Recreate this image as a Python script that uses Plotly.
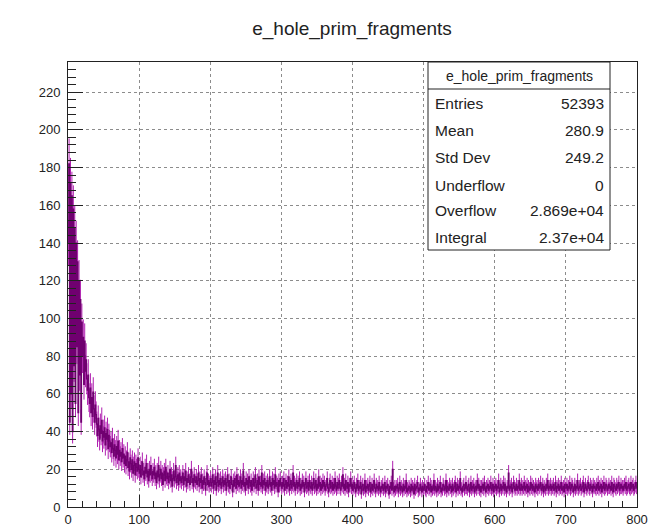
import numpy as np
import plotly.graph_objects as go

# ---------------- data (bin contents, 800 bins of width 1 from 0 to 800) -------------
title_text = "e_hole_prim_fragments"
x_min, x_max = 0, 800

counts_000_039 = [140, 182, 45, 172, 60, 165, 40, 158, 75, 148, 55, 140, 85, 130, 50, 120, 70, 110, 45, 98,
                  80, 90, 65, 88, 72, 78, 68, 62, 70, 58, 55, 63, 50, 58, 48, 61, 52, 45, 54, 49]
counts_040_099 = [44, 38, 47, 41, 36, 43, 39, 46, 35, 40, 37, 42, 33, 39, 36, 41, 31, 38, 35, 32,
                  34, 29, 36, 31, 27, 33, 30, 26, 32, 28, 35, 25, 30, 27, 29, 24, 31, 26, 28, 23,
                  27, 22, 25, 29, 21, 24, 19, 26, 23, 20, 25, 18, 22, 24, 17, 23, 21, 19, 26, 20]
counts_100_199 = [18, 22, 16, 20, 24, 17, 19, 15, 21, 18, 23, 16, 19, 14, 20, 17, 22, 18, 15, 19,
                  17, 21, 15, 18, 13, 19, 16, 22, 14, 17, 20, 15, 18, 12, 17, 19, 14, 21, 16, 15,
                  18, 13, 16, 20, 14, 17, 11, 15, 19, 14, 16, 22, 13, 15, 17, 12, 18, 14, 16, 13,
                  15, 18, 12, 16, 14, 19, 11, 15, 13, 17, 14, 12, 16, 20, 13, 15, 11, 17, 14, 13,
                  16, 12, 14, 18, 11, 15, 13, 17, 10, 14, 12, 16, 13, 9, 15, 18, 12, 14, 11, 13]
counts_200_299 = [15, 11, 13, 17, 10, 14, 12, 16, 9, 13, 18, 11, 14, 12, 15, 10, 13, 16, 11, 14,
                  12, 15, 9, 13, 17, 11, 14, 10, 13, 16, 12, 8, 14, 11, 15, 13, 10, 17, 12, 14,
                  11, 13, 16, 10, 14, 12, 19, 11, 13, 9, 15, 12, 14, 10, 16, 13, 11, 14, 9, 12,
                  15, 11, 13, 17, 10, 12, 14, 9, 16, 12, 13, 11, 18, 10, 14, 12, 15, 9, 13, 11,
                  14, 10, 12, 16, 11, 13, 9, 15, 12, 14, 10, 17, 11, 13, 12, 8, 14, 11, 15, 12]
counts_300_399 = [10, 13, 11, 15, 9, 12, 14, 10, 13, 11, 16, 9, 12, 14, 10, 12, 18, 11, 13, 9,
                  12, 14, 10, 13, 11, 15, 9, 12, 10, 14, 11, 13, 8, 12, 15, 10, 11, 13, 9, 14,
                  11, 10, 13, 9, 12, 15, 10, 11, 14, 9, 12, 10, 16, 11, 13, 9, 12, 10, 14, 11,
                  13, 9, 11, 12, 15, 10, 8, 12, 14, 10, 11, 13, 9, 12, 10, 15, 11, 9, 13, 10,
                  12, 14, 10, 9, 13, 11, 17, 10, 12, 9, 14, 11, 10, 13, 8, 12, 11, 15, 10, 12]
counts_400_499 = [9, 11, 13, 10, 8, 12, 10, 14, 9, 11, 10, 13, 7, 11, 12, 9, 10, 14, 8, 11,
                  10, 12, 9, 11, 13, 8, 10, 12, 9, 11, 14, 10, 8, 12, 10, 11, 9, 13, 10, 8,
                  11, 10, 12, 9, 10, 13, 8, 11, 10, 12, 9, 7, 11, 10, 13, 9, 20, 10, 8, 11,
                  9, 11, 10, 12, 8, 10, 13, 9, 11, 10, 8, 12, 9, 11, 10, 14, 8, 10, 9, 11,
                  10, 8, 12, 9, 11, 10, 7, 12, 9, 10, 11, 13, 8, 10, 9, 12, 10, 8, 11, 9]
counts_500_599 = [10, 12, 9, 8, 11, 10, 13, 9, 10, 12, 8, 11, 9, 10, 14, 9, 11, 10, 8, 12,
                  9, 11, 10, 13, 8, 10, 9, 12, 11, 9, 10, 14, 8, 11, 10, 9, 12, 10, 11, 8,
                  12, 9, 10, 11, 13, 8, 10, 12, 9, 11, 10, 15, 9, 10, 8, 11, 12, 9, 10, 13,
                  10, 9, 11, 12, 8, 10, 13, 9, 11, 10, 12, 8, 10, 11, 9, 14, 10, 12, 9, 11,
                  8, 11, 10, 12, 9, 13, 10, 8, 11, 10, 12, 9, 11, 10, 13, 9, 10, 12, 8, 11]
counts_600_699 = [10, 12, 9, 11, 10, 14, 8, 10, 12, 9, 11, 10, 13, 9, 12, 10, 8, 11, 10, 18,
                  9, 11, 10, 12, 8, 10, 13, 11, 9, 10, 12, 9, 11, 10, 14, 9, 10, 12, 9, 11,
                  10, 13, 9, 11, 10, 12, 8, 11, 10, 9, 13, 10, 12, 9, 11, 10, 8, 12, 10, 11,
                  9, 12, 10, 11, 13, 9, 10, 12, 8, 11, 10, 9, 12, 10, 14, 9, 11, 10, 12, 9,
                  11, 10, 12, 9, 10, 13, 8, 11, 10, 12, 9, 11, 10, 13, 9, 10, 11, 8, 12, 10]
counts_700_799 = [10, 12, 9, 11, 10, 13, 9, 10, 12, 11, 8, 10, 12, 9, 11, 10, 14, 9, 10, 11,
                  12, 9, 10, 11, 13, 8, 10, 12, 10, 9, 11, 13, 10, 9, 12, 10, 11, 8, 12, 10,
                  11, 10, 9, 12, 10, 13, 9, 11, 10, 12, 8, 11, 10, 13, 9, 10, 12, 11, 9, 10,
                  12, 10, 11, 9, 13, 10, 8, 12, 11, 10, 9, 12, 10, 11, 13, 9, 10, 12, 10, 11,
                  9, 11, 12, 10, 13, 9, 10, 11, 12, 10, 9, 13, 10, 11, 12, 9, 10, 11, 13, 10]

x_tick_vals = [0, 100, 200, 300, 400, 500, 600, 700, 800]
y_tick_vals = [0, 20, 40, 60, 80, 100, 120, 140, 160, 180, 200, 220]

stats_title = "e_hole_prim_fragments"
stats_labels = ["Entries", "Mean", "Std Dev", "Underflow", "Overflow", "Integral"]
stats_values = ["52393", "280.9", "249.2", "0", "2.869e+04", "2.37e+04"]

# ---------------- build histogram ----------------
counts = np.array(counts_000_039 + counts_040_099 + counts_100_199 + counts_200_299 +
                  counts_300_399 + counts_400_499 + counts_500_599 + counts_600_699 +
                  counts_700_799, dtype=float)
n_bins = len(counts)
edges = np.linspace(x_min, x_max, n_bins + 1)
centers = 0.5 * (edges[:-1] + edges[1:])
errors = np.sqrt(counts)

FONT = "Liberation Sans, Arial, Helvetica, sans-serif"

fig = go.Figure()
fig.add_trace(go.Scatter(
    x=centers, y=counts, mode="lines",
    line=dict(shape="hvh", color="rgb(112,0,112)", width=1.2),
    error_y=dict(type="data", array=errors, visible=True,
                 color="rgb(175,30,175)", thickness=1, width=0),
    hoverinfo="skip", showlegend=False,
))

L, R, T, B = 68, 637, 62, 507
W, H = 663, 529

fig.update_layout(
    width=W, height=H,
    margin=dict(l=L, r=W - R, t=T, b=H - B, autoexpand=False),
    paper_bgcolor="white", plot_bgcolor="white",
    font=dict(family=FONT, size=13, color="#222"),
    title=dict(text=title_text, x=352 / W, xanchor="center",
               y=1 - 28 / H, yanchor="middle",
               font=dict(family=FONT, size=19, color="#222")),
    showlegend=False,
)

fig.update_xaxes(
    range=[x_min, x_max], tickmode="array", tickvals=x_tick_vals, automargin=False,
    ticks="inside", ticklen=12, tickcolor="#222", tickwidth=1,
    minor=dict(ticks="inside", ticklen=6, dtick=20, tickcolor="#222", showgrid=False),
    showline=True, linecolor="#222", linewidth=1, mirror=True,
    showgrid=True, gridcolor="#8c8c8c", griddash="dot", gridwidth=1,
    zeroline=False, tickfont=dict(size=13, color="#222"),
)
fig.update_yaxes(
    range=[0, 236], tickmode="array", tickvals=y_tick_vals, automargin=False,
    ticks="inside", ticklen=15, tickcolor="#222", tickwidth=1,
    minor=dict(ticks="inside", ticklen=8, dtick=4, tickcolor="#222", showgrid=False),
    showline=True, linecolor="#222", linewidth=1, mirror=True,
    showgrid=True, gridcolor="#8c8c8c", griddash="dot", gridwidth=1,
    zeroline=False, tickfont=dict(size=13, color="#222"), ticklabelstandoff=4,
)

# ---------------- stats box ----------------
def px_x(p):
    return (p - L) / (R - L)

def px_y(p):
    return (B - p) / (B - T)

bx0, bx1, by0, by1 = px_x(428), px_x(610), px_y(250), px_y(62)
fig.add_shape(type="rect", xref="paper", yref="paper", x0=bx0, x1=bx1, y0=by0, y1=by1,
              line=dict(color="#222", width=1), fillcolor="white", layer="above")
fig.add_shape(type="line", xref="paper", yref="paper", x0=bx0, x1=bx1,
              y0=px_y(89), y1=px_y(89), line=dict(color="#222", width=1), layer="above")
fig.add_annotation(xref="paper", yref="paper", x=(bx0 + bx1) / 2, y=px_y(76),
                   text=stats_title, showarrow=False, xanchor="center", yanchor="middle",
                   font=dict(family=FONT, size=14, color="#222"))
row_y = [103, 130, 158, 185, 211, 238]
for lab, val, ry in zip(stats_labels, stats_values, row_y):
    fig.add_annotation(xref="paper", yref="paper", x=px_x(433), y=px_y(ry), text=lab,
                       showarrow=False, xanchor="left", yanchor="middle",
                       font=dict(family=FONT, size=15.5, color="#222"))
    fig.add_annotation(xref="paper", yref="paper", x=px_x(606), y=px_y(ry), text=val,
                       showarrow=False, xanchor="right", yanchor="middle",
                       font=dict(family=FONT, size=15.5, color="#222"))

fig.write_html("out.html", post_script="document.body.style.margin='0';",
               config={"displayModeBar": False})
